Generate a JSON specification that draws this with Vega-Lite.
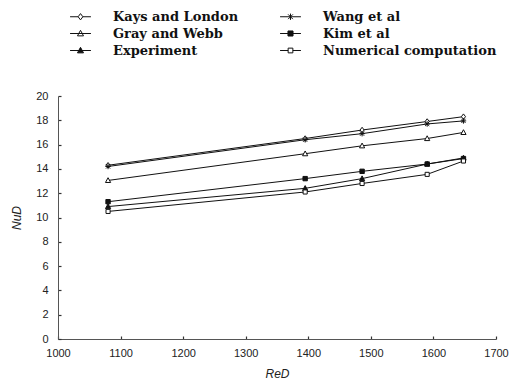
{
  "$schema": "https://vega.github.io/schema/vega-lite/v6.json",
  "width": 438,
  "height": 243,
  "autosize": {"type": "none"},
  "padding": {"left": 58, "top": 96, "right": 19, "bottom": 46},
  "background": "white",
  "config": {"view": {"stroke": null}},
  "data": {"values": [
    {"series": "Kays and London", "Re": 1080, "Nu": 14.3},
    {"series": "Kays and London", "Re": 1395, "Nu": 16.5},
    {"series": "Kays and London", "Re": 1486, "Nu": 17.2},
    {"series": "Kays and London", "Re": 1590, "Nu": 17.9},
    {"series": "Kays and London", "Re": 1648, "Nu": 18.3},
    {"series": "Wang et al", "Re": 1080, "Nu": 14.2},
    {"series": "Wang et al", "Re": 1395, "Nu": 16.4},
    {"series": "Wang et al", "Re": 1486, "Nu": 16.9},
    {"series": "Wang et al", "Re": 1590, "Nu": 17.7},
    {"series": "Wang et al", "Re": 1648, "Nu": 17.95},
    {"series": "Gray and Webb", "Re": 1080, "Nu": 13.05},
    {"series": "Gray and Webb", "Re": 1395, "Nu": 15.25},
    {"series": "Gray and Webb", "Re": 1486, "Nu": 15.9},
    {"series": "Gray and Webb", "Re": 1590, "Nu": 16.5},
    {"series": "Gray and Webb", "Re": 1648, "Nu": 17.0},
    {"series": "Kim et al", "Re": 1080, "Nu": 11.3},
    {"series": "Kim et al", "Re": 1395, "Nu": 13.2},
    {"series": "Kim et al", "Re": 1486, "Nu": 13.8},
    {"series": "Kim et al", "Re": 1590, "Nu": 14.4},
    {"series": "Kim et al", "Re": 1648, "Nu": 14.85},
    {"series": "Experiment", "Re": 1080, "Nu": 10.9},
    {"series": "Experiment", "Re": 1395, "Nu": 12.4},
    {"series": "Experiment", "Re": 1486, "Nu": 13.2},
    {"series": "Experiment", "Re": 1590, "Nu": 14.4},
    {"series": "Experiment", "Re": 1648, "Nu": 14.9},
    {"series": "Numerical computation", "Re": 1080, "Nu": 10.5},
    {"series": "Numerical computation", "Re": 1395, "Nu": 12.1},
    {"series": "Numerical computation", "Re": 1486, "Nu": 12.8},
    {"series": "Numerical computation", "Re": 1590, "Nu": 13.55},
    {"series": "Numerical computation", "Re": 1648, "Nu": 14.65}
  ]},
  "encoding": {
    "x": {"field": "Re", "type": "quantitative",
      "scale": {"domain": [1000, 1700], "nice": false, "zero": false},
      "axis": {"values": [1000,1100,1200,1300,1400,1500,1600,1700], "format": "d", "grid": false, "title": "ReD",
        "titleFont": "Liberation Sans", "titleFontStyle": "italic", "titleFontWeight": "normal", "titleFontSize": 12, "titleColor": "#222",
        "labelFont": "Liberation Sans", "labelFontSize": 11, "labelColor": "#222", "labelPadding": 11,
        "domainColor": "#555", "tickColor": "#333", "tickSize": -3, "tickWidth": 1.2, "titlePadding": 10, "labelFlush": false}},
    "y": {"field": "Nu", "type": "quantitative",
      "scale": {"domain": [0, 20], "nice": false},
      "axis": {"values": [0,2,4,6,8,10,12,14,16,18,20], "grid": false, "title": "NuD",
        "titleFont": "Liberation Sans", "titleFontStyle": "italic", "titleFontWeight": "normal", "titleFontSize": 12, "titleColor": "#222",
        "labelFont": "Liberation Sans", "labelFontSize": 11, "labelColor": "#222", "labelPadding": 13,
        "domainColor": "#555", "tickColor": "#333", "tickSize": -3, "tickWidth": 1.2, "titlePadding": 12}}
  },
  "layer": [
    {
      "mark": {"type": "line", "color": "#111", "strokeWidth": 1},
      "encoding": {"detail": {"field": "series"}}
    },
    {
      "mark": {"type": "point", "size": 30, "stroke": "#111", "strokeWidth": 1, "opacity": 1, "filled": false},
      "encoding": {
        "shape": {"field": "series", "type": "nominal",
          "scale": {
            "domain": ["Kays and London", "Wang et al", "Gray and Webb", "Kim et al", "Experiment", "Numerical computation"],
            "range": [
              "M0,-1L0.75,0L0,1L-0.75,0Z",
              "M-1,0H1M0,-1V1M-0.75,-0.75L0.75,0.75M-0.75,0.75L0.75,-0.75",
              "M0,-1L0.95,0.75L-0.95,0.75Z",
              "M-0.8,-0.8H0.8V0.8H-0.8Z",
              "M0,-1L0.95,0.75L-0.95,0.75Z",
              "M-0.75,-0.75H0.75V0.75H-0.75Z"
            ]},
          "legend": null},
        "fill": {"field": "series", "type": "nominal",
          "scale": {
            "domain": ["Kays and London", "Wang et al", "Gray and Webb", "Kim et al", "Experiment", "Numerical computation"],
            "range": ["white", "white", "white", "#111", "#111", "white"]},
          "legend": null}
      }
    },
    {
      "transform": [{"filter": "datum.Nu < 0"}],
      "mark": {"type": "point", "size": 40, "stroke": "#111", "strokeWidth": 1, "opacity": 1, "filled": false},
      "encoding": {
        "shape": {"field": "series", "type": "nominal",
          "scale": {
            "domain": ["Kays and London", "Gray and Webb", "Experiment", "Wang et al", "Kim et al", "Numerical computation"],
            "range": [
              "M-3.3,0H-0.75M0.75,0H3.3M0,-1L0.75,0L0,1L-0.75,0Z",
              "M-3.3,0H3.3M0,-1L0.95,0.75L-0.95,0.75Z",
              "M-3.3,0H3.3M0,-1L0.95,0.75L-0.95,0.75Z",
              "M-3.3,0H3.3M0,-1V1M-0.75,-0.75L0.75,0.75M-0.75,0.75L0.75,-0.75",
              "M-3.3,0H3.3M-0.8,-0.8H0.8V0.8H-0.8Z",
              "M-3.3,0H-0.75M0.75,0H3.3M-0.75,-0.75H0.75V0.75H-0.75Z"
            ]},
          "legend": {
            "title": null, "orient": "none", "legendX": 16, "legendY": -86, "columns": 2,
            "columnPadding": 39, "rowPadding": 3, "symbolSize": 40, "symbolStrokeColor": "#111", "symbolOpacity": 1,
            "symbolStrokeWidth": 1, "labelFont": "DejaVu Serif", "labelFontSize": 13, "labelFontWeight": "bold",
            "labelColor": "#111", "labelOffset": 26, "labelLimit": 250,
            "encode": {"symbols": {"update": {"stroke": {"value": "#111"}, "strokeWidth": {"value": 1}, "opacity": {"value": 1}}}}}},
        "fill": {"field": "series", "type": "nominal",
          "scale": {
            "domain": ["Kays and London", "Gray and Webb", "Experiment", "Wang et al", "Kim et al", "Numerical computation"],
            "range": ["white", "white", "#111", "white", "#111", "white"]},
          "legend": {
            "title": null, "orient": "none", "legendX": 16, "legendY": -86, "columns": 2,
            "columnPadding": 39, "rowPadding": 3, "symbolSize": 40, "symbolStrokeColor": "#111", "symbolOpacity": 1,
            "symbolStrokeWidth": 1, "labelFont": "DejaVu Serif", "labelFontSize": 13, "labelFontWeight": "bold",
            "labelColor": "#111", "labelOffset": 26, "labelLimit": 250,
            "encode": {"symbols": {"update": {"stroke": {"value": "#111"}, "strokeWidth": {"value": 1}, "opacity": {"value": 1}}}}}}
      }
    }
  ],
  "resolve": {"scale": {"shape": "independent", "fill": "independent"}}
}
